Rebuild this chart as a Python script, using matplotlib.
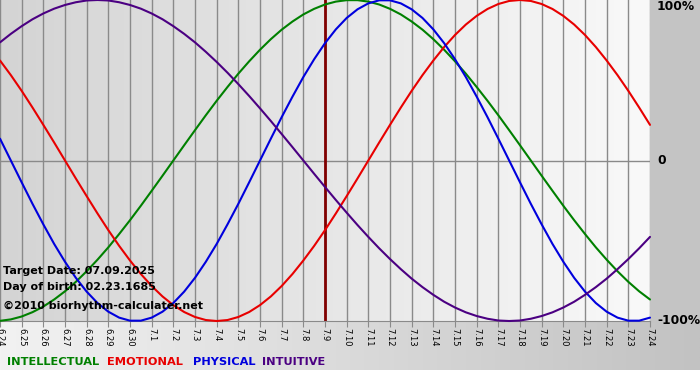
import matplotlib
matplotlib.use('Agg')
import matplotlib.pyplot as plt
import numpy as np
from matplotlib.colors import LinearSegmentedColormap

# 日期刻度
days = ['6.24', '6.25', '6.26', '6.27', '6.28', '6.29', '6.30',
        '7.1', '7.2', '7.3', '7.4', '7.5', '7.6', '7.7', '7.8', '7.9',
        '7.10', '7.11', '7.12', '7.13', '7.14', '7.15', '7.16', '7.17',
        '7.18', '7.19', '7.20', '7.21', '7.22', '7.23', '7.24']
target_day = '7.9'

# 各周期数值（-1 ~ 1），每半天一个读数
intellectual = [-0.999, -0.990, -0.972, -0.945, -0.910, -0.866, -0.815, -0.756, -0.690, -0.618,
                -0.541, -0.458, -0.372, -0.282, -0.189, -0.095, 0.000, 0.095, 0.189, 0.282,
                0.372, 0.458, 0.541, 0.618, 0.690, 0.756, 0.815, 0.866, 0.910, 0.945,
                0.972, 0.990, 0.999, 0.999, 0.990, 0.972, 0.945, 0.910, 0.866, 0.815,
                0.756, 0.690, 0.618, 0.541, 0.458, 0.372, 0.282, 0.189, 0.095, 0.000,
                -0.095, -0.189, -0.282, -0.372, -0.458, -0.541, -0.618, -0.690, -0.756, -0.815,
                -0.866]
emotional = [0.623, 0.532, 0.434, 0.330, 0.222, 0.112, 0.000, -0.112, -0.222, -0.330,
             -0.434, -0.532, -0.623, -0.707, -0.782, -0.847, -0.901, -0.944, -0.975, -0.994,
             -1.000, -0.994, -0.975, -0.944, -0.901, -0.847, -0.782, -0.707, -0.623, -0.532,
             -0.434, -0.330, -0.222, -0.112, 0.000, 0.112, 0.222, 0.330, 0.434, 0.532,
             0.623, 0.707, 0.782, 0.847, 0.901, 0.944, 0.975, 0.994, 1.000, 0.994,
             0.975, 0.944, 0.901, 0.847, 0.782, 0.707, 0.623, 0.532, 0.434, 0.330,
             0.222]
physical = [0.136, 0.000, -0.136, -0.270, -0.398, -0.520, -0.631, -0.731, -0.817, -0.888,
            -0.942, -0.979, -0.998, -0.998, -0.979, -0.942, -0.888, -0.817, -0.731, -0.631,
            -0.520, -0.398, -0.270, -0.136, 0.000, 0.136, 0.270, 0.398, 0.520, 0.631,
            0.731, 0.817, 0.888, 0.942, 0.979, 0.998, 0.998, 0.979, 0.942, 0.888,
            0.817, 0.731, 0.631, 0.520, 0.398, 0.270, 0.136, 0.000, -0.136, -0.270,
            -0.398, -0.520, -0.631, -0.731, -0.817, -0.888, -0.942, -0.979, -0.998, -0.998,
            -0.979]
intuitive = [0.736, 0.789, 0.837, 0.880, 0.916, 0.946, 0.969, 0.986, 0.997, 1.000,
             0.997, 0.986, 0.969, 0.946, 0.916, 0.880, 0.837, 0.789, 0.736, 0.677,
             0.614, 0.547, 0.476, 0.402, 0.325, 0.246, 0.165, 0.083, 0.000, -0.083,
             -0.165, -0.246, -0.325, -0.402, -0.476, -0.547, -0.614, -0.677, -0.736, -0.789,
             -0.837, -0.880, -0.916, -0.946, -0.969, -0.986, -0.997, -1.000, -0.997, -0.986,
             -0.969, -0.946, -0.916, -0.880, -0.837, -0.789, -0.736, -0.677, -0.614, -0.547,
             -0.476]

series_names = ['INTELLECTUAL', 'EMOTIONAL', 'PHYSICAL', 'INTUITIVE']
series_colors = ['#008000', '#e80000', '#0000dd', '#4b0082']

W, H = 700, 380
fig = plt.figure(figsize=(W / 100, H / 100), dpi=100)
fig.patch.set_facecolor('white')

# 背景层（像素坐标）
bg = fig.add_axes([0, 0, 1, 1])
bg.set_xlim(0, W)
bg.set_ylim(H, 0)
bg.axis('off')
grad = np.linspace(0, 1, 256).reshape(1, -1)
panel_cmap = LinearSegmentedColormap.from_list('panel', ['#f2f2f2', '#c2c2c2'])
bg.imshow(grad, cmap=panel_cmap, extent=[0, W, 370, 321], aspect='auto', zorder=0)
bg.add_patch(plt.Rectangle((650, 0), 50, 321, color='#c4c4c4', zorder=1))

# 主图
plot_h = 321
ax = fig.add_axes([0, (H - plot_h) / H, 650 / W, plot_h / H])
x = np.arange(len(days))
xs = np.arange(len(physical)) / 2  # 半天一个点
ax.set_xlim(0, len(days) - 1)
ax.set_ylim(-1.0, 1.0)
area_cmap = LinearSegmentedColormap.from_list('area', ['#d4d4d4', '#f9f9f9'])
ax.imshow(grad, cmap=area_cmap, extent=[0, len(days) - 1, -1, 1], aspect='auto', zorder=0)

ax.set_xticks(x)
ax.set_xticklabels(days, rotation=270, fontsize=6)
ax.set_yticks([])
ax.grid(axis='x', color='#8a8a8a', linewidth=1, zorder=1)
ax.axhline(0, color='#8a8a8a', linewidth=1, zorder=1)
ax.tick_params(axis='x', length=4, color='#8a8a8a', pad=1)
for s in ['top', 'left', 'right']:
    ax.spines[s].set_visible(False)
ax.spines['bottom'].set_color('#8a8a8a')

ax.axvline(days.index(target_day), color='#800000', linewidth=2, zorder=2)

for vals, c in zip([intellectual, emotional, physical, intuitive], series_colors):
    ax.plot(xs, vals, color=c, linewidth=1.5, zorder=3, clip_on=False,
            solid_joinstyle='round', solid_capstyle='round')

# 文字
txt = dict(fontsize=8, fontweight='bold', color='black', va='center', ha='left')
fig.text(3 / W, 1 - 271 / H, 'Target Date: 07.09.2025', **txt)
fig.text(3 / W, 1 - 287 / H, 'Day of birth: 02.23.1685', **txt)
fig.text(3 / W, 1 - 306 / H, '\u00a92010 biorhythm-calculater.net', **txt)

lab = dict(fontsize=8.8, fontweight='bold', color='black', va='center', ha='left')
fig.text(657 / W, 1 - 7 / H, '100%', **lab)
fig.text(657 / W, 1 - 161 / H, '0', **lab)
fig.text(657 / W, 1 - 321 / H, '-100%', **lab)

legend_x = [7, 107, 193, 262]
for name, c, lx in zip(series_names, series_colors, legend_x):
    fig.text(lx / W, 1 - 362 / H, name, fontsize=8.2, fontweight='bold', color=c,
             va='center', ha='left')

fig.savefig('out.png', dpi=100)
